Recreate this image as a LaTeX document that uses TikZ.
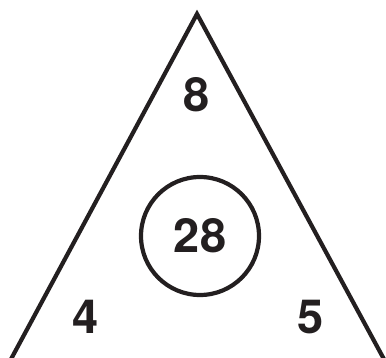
\documentclass[tikz,border=0pt]{standalone}
\usepackage{fontspec}
\setmainfont{TeX Gyre Heros}
\usepackage{tikz}
\usetikzlibrary{calc}
\definecolor{inkblack}{RGB}{35, 31, 32}

\begin{document}
\begin{tikzpicture}[x=1pt, y=-1pt, line width=4.2pt,
    num/.style={font=\bfseries\fontsize{47}{47}\selectfont, text=inkblack, inner sep=0pt}]
  \useasboundingbox (0,0) rectangle (386,358);
  \clip (0,0) rectangle (386,358);

  % Triangle
  \coordinate (apex) at (197,14);
  \coordinate (baseL) at (3,374);
  \coordinate (baseR) at (392,374);
  \draw[inkblack, line join=miter] (baseL) -- (apex) -- (baseR);

  % Centre circle
  \node[num, draw=inkblack, circle, minimum size=118pt] (centre) at (200,236) {28};

  % Corner numbers
  \node[num] (top)   at (197,95)  {8};
  \node[num] (left)  at (86,317)  {4};
  \node[num] (right) at (311,317) {5};
\end{tikzpicture}
\end{document}
